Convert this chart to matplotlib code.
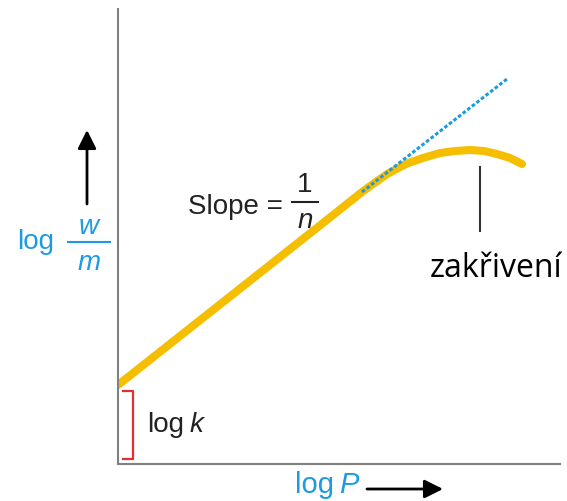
import matplotlib.pyplot as plt

# schematic isotherm, units are arbitrary
log_p = [0, 100, 200, 244, 255, 270, 289, 305, 322, 337, 352, 366, 379, 392, 404]
log_wm = [79, 158, 237, 272, 280, 290.5, 300.5, 306, 311, 313, 314, 313, 310, 306, 300]

# extrapolated straight line (slope 1/n)
tangent_p = [244, 389]
tangent_wm = [272, 385]

# log k bracket
bracket_x = [5, 15, 15, 5]
bracket_y = [73, 73, 5, 5]

yellow = '#f5be00'
blue = '#1e9be0'
dark = '#222222'

fig = plt.figure(figsize=(5.67, 5.02), dpi=100)
ax = fig.add_axes([118 / 567, 37 / 502, 442 / 567, 455 / 502])
ax.set_xlim(0, 442)
ax.set_ylim(0, 455)
ax.set_xticks([])
ax.set_yticks([])
ax.spines['top'].set_visible(False)
ax.spines['right'].set_visible(False)
for side in ['left', 'bottom']:
    ax.spines[side].set_color('#808080')
    ax.spines[side].set_linewidth(1.5)

ax.plot(log_p, log_wm, color=yellow, linewidth=5.8, solid_capstyle='round',
        solid_joinstyle='round', zorder=2)
ax.plot(tangent_p, tangent_wm, color=blue, linewidth=2.2,
        linestyle=(0, (1.2, 0.7)), zorder=3)
ax.plot(bracket_x, bracket_y, color='#e03030', linewidth=1.6, clip_on=False)

# pointer to the bend
ax.plot([362, 362], [297, 233], color='#333333', linewidth=1.5)
ax.text(312, 188, 'zakřivení', fontsize=23, family='Open Sans',
        color='black', ha='left', va='baseline')

sans = 'Liberation Sans'
ax.text(70, 258, 'Slope =', fontsize=20, family=sans, color=dark,
        ha='left', va='center')
ax.text(187, 280, '1', fontsize=20, family=sans, color=dark,
        ha='center', va='center')
ax.plot([174, 200], [262, 262], color=dark, linewidth=1.5)
ax.text(187, 244, 'n', fontsize=20, family=sans, style='italic',
        color=dark, ha='center', va='center')

ax.text(29, 40, 'log', fontsize=20, family=sans, color=dark,
        ha='left', va='center')
ax.text(72, 40, 'k', fontsize=20, family=sans, style='italic', color=dark,
        ha='left', va='center')

# y label
ax.text(-101, 223, 'log', fontsize=20, family=sans, color=blue,
        ha='left', va='center', clip_on=False)
ax.plot([-50, -8], [222, 222], color=blue, linewidth=1.5, clip_on=False)
ax.text(-29, 238, 'w', fontsize=20, family=sans, style='italic',
        color=blue, ha='center', va='center', clip_on=False)
ax.text(-29, 202, 'm', fontsize=20, family=sans, style='italic',
        color=blue, ha='center', va='center', clip_on=False)

# x label
ax.text(177, -20, 'log', fontsize=21, family=sans, color=blue,
        ha='left', va='center', clip_on=False)
ax.text(221, -20, 'P', fontsize=21, family=sans, style='italic', color=blue,
        ha='left', va='center', clip_on=False)

ax.annotate('', xy=(-31, 334), xytext=(-31, 260), annotation_clip=False,
            arrowprops=dict(arrowstyle='-|>', color='black', lw=2,
                            mutation_scale=28, shrinkA=0, shrinkB=0))
ax.annotate('', xy=(325, -25), xytext=(249, -25), annotation_clip=False,
            arrowprops=dict(arrowstyle='-|>', color='black', lw=2,
                            mutation_scale=28, shrinkA=0, shrinkB=0))

fig.savefig('out.png', dpi=100)
